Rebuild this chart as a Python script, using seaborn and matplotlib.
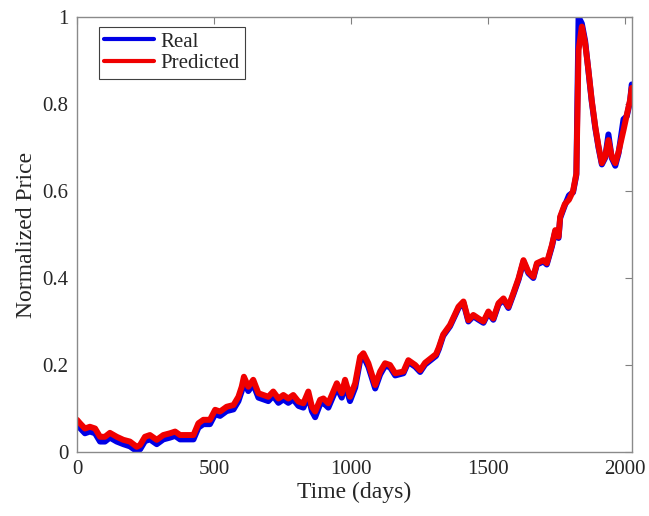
import numpy as np
import pandas as pd
import matplotlib
matplotlib.use("Agg")
import matplotlib.pyplot as plt
import seaborn as sns

days = [0, 11, 29, 47, 66, 84, 102, 120, 145, 169, 193, 218, 230, 248, 266, 291,
        315, 339, 358, 376, 400, 425, 443, 461, 485, 504, 522, 546, 571, 589, 601,
        609, 625, 643, 662, 680, 698, 716, 735, 753, 771, 789, 808, 826, 844, 857,
        869, 887, 899, 917, 948, 966, 978, 996, 1015, 1033, 1045, 1063, 1088, 1106,
        1124, 1142, 1161, 1191, 1209, 1234, 1252, 1270, 1290, 1310, 1320, 1336, 1361,
        1392, 1410, 1428, 1446, 1465, 1483, 1501, 1519, 1538, 1556, 1574, 1592, 1611,
        1629, 1647, 1665, 1678, 1702, 1714, 1733, 1745, 1757, 1763, 1780, 1795, 1810,
        1822, 1830, 1842, 1854, 1866, 1878, 1891, 1903, 1915, 1927, 1939, 1951, 1964,
        1976, 1994, 2006, 2018, 2024]

predicted = [0.074, 0.066, 0.054, 0.058, 0.054, 0.035, 0.035, 0.044, 0.035, 0.028,
             0.024, 0.012, 0.016, 0.035, 0.039, 0.028, 0.039, 0.043, 0.047, 0.039,
             0.039, 0.039, 0.066, 0.074, 0.074, 0.097, 0.093, 0.104, 0.108, 0.127,
             0.150, 0.173, 0.150, 0.166, 0.135, 0.131, 0.127, 0.139, 0.123, 0.131,
             0.123, 0.131, 0.116, 0.112, 0.139, 0.104, 0.093, 0.120, 0.123, 0.112,
             0.158, 0.135, 0.166, 0.127, 0.158, 0.219, 0.227, 0.204, 0.154, 0.185,
             0.204, 0.200, 0.181, 0.185, 0.211, 0.200, 0.188, 0.205, 0.215, 0.225,
             0.240, 0.270, 0.292, 0.334, 0.346, 0.303, 0.315, 0.307, 0.300, 0.323,
             0.307, 0.342, 0.353, 0.334, 0.365, 0.399, 0.441, 0.414, 0.403, 0.434,
             0.441, 0.434, 0.476, 0.510, 0.495, 0.541, 0.570, 0.580, 0.600, 0.640,
             0.924, 0.978, 0.940, 0.878, 0.809, 0.748, 0.702, 0.664, 0.679, 0.717,
             0.679, 0.664, 0.690, 0.740, 0.775, 0.809, 0.837]

real = [0.062, 0.055, 0.043, 0.047, 0.043, 0.024, 0.024, 0.033, 0.024, 0.018,
        0.013, 0.002, 0.006, 0.025, 0.029, 0.018, 0.029, 0.033, 0.037, 0.029,
        0.029, 0.029, 0.056, 0.064, 0.064, 0.087, 0.083, 0.094, 0.098, 0.117,
        0.140, 0.163, 0.140, 0.156, 0.125, 0.121, 0.117, 0.129, 0.113, 0.121,
        0.113, 0.121, 0.106, 0.102, 0.129, 0.094, 0.080, 0.110, 0.113, 0.102,
        0.148, 0.125, 0.156, 0.117, 0.148, 0.210, 0.220, 0.196, 0.146, 0.178,
        0.198, 0.195, 0.176, 0.181, 0.207, 0.196, 0.184, 0.201, 0.211, 0.221,
        0.236, 0.267, 0.289, 0.331, 0.343, 0.300, 0.312, 0.304, 0.297, 0.320,
        0.304, 0.339, 0.350, 0.331, 0.362, 0.396, 0.438, 0.411, 0.400, 0.431,
        0.438, 0.431, 0.473, 0.507, 0.492, 0.538, 0.567, 0.590, 0.597, 0.637,
        1.000, 0.985, 0.945, 0.876, 0.806, 0.745, 0.699, 0.661, 0.676, 0.730,
        0.676, 0.658, 0.687, 0.765, 0.772, 0.806, 0.845]

df = pd.concat([
    pd.DataFrame({"Time (days)": days, "Normalized Price": real, "Series": "Real"}),
    pd.DataFrame({"Time (days)": days, "Normalized Price": predicted, "Series": "Predicted"}),
], ignore_index=True)

sns.set_style("white")
plt.rcParams["font.family"] = ["Liberation Serif", "DejaVu Serif"]

fig = plt.figure(figsize=(6.49, 5.16), dpi=100)
ax = fig.add_axes([77 / 649, 1 - 452 / 516, 555 / 649, 435 / 516])

sns.lineplot(data=df, x="Time (days)", y="Normalized Price", hue="Series",
             palette={"Real": "#0000e6", "Predicted": "#f00000"},
             linewidth=4.3, ax=ax, estimator=None, sort=False)

ax.set_xlim(0, 2025)
ax.set_ylim(0, 1)
ax.set_xticks([0, 500, 1000, 1500, 2000])
ax.set_yticks([0, 0.2, 0.4, 0.6, 0.8, 1])
ax.set_yticklabels(["0", "0.2", "0.4", "0.6", "0.8", "1"])
ax.tick_params(direction="in", top=True, right=True, length=5, width=0.8,
               color="#808080", labelsize=15, labelcolor="#262626", pad=6)
for s in ax.spines.values():
    s.set_color("#8a8a8a")
    s.set_linewidth(1.0)
ax.set_xlabel("Time (days)", fontsize=17, color="#262626", labelpad=2)
ax.set_ylabel("Normalized Price", fontsize=17, color="#262626", labelpad=4)

leg = ax.legend(loc="upper left", bbox_to_anchor=(22 / 555, 1 - 10 / 435),
                borderaxespad=0, fontsize=15, frameon=True, fancybox=False,
                framealpha=1, edgecolor="#404040", handlelength=2.4,
                handletextpad=0.3, borderpad=0.25, labelspacing=0.1)
leg.get_frame().set_linewidth(0.8)
for line in leg.get_lines():
    line.set_linewidth(3.0)

fig.savefig("out.png", dpi=100)
